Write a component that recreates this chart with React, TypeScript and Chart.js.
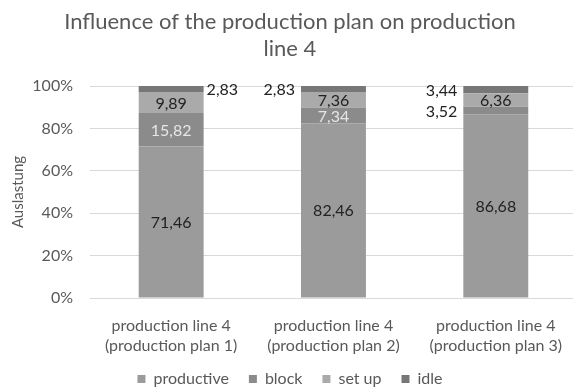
import React, { useEffect, useRef } from 'react';
import { Chart, registerables } from 'chart.js';

Chart.register(...registerables);

const categories = [
  ['production line 4', '(production plan 1)'],
  ['production line 4', '(production plan 2)'],
  ['production line 4', '(production plan 3)'],
];
const seriesNames = ['productive', 'block', 'set up', 'idle'];
const productive = [71.46, 82.46, 86.68];
const block = [15.82, 7.34, 3.52];
const setUp = [9.89, 7.36, 6.36];
const idle = [2.83, 2.83, 3.44];
const yTickValues = [0, 20, 40, 60, 80, 100];

const seriesColors = ['#9b9b9b', '#8b8b8b', '#aaaaaa', '#777777'];
const labelColors = ['#222222', '#e6e6e6', '#222222', '#222222'];
// label placement per series per category
const placements = [
  ['center', 'center', 'center'],
  ['center', 'center', 'left'],
  ['center', 'center', 'center'],
  ['right', 'left', 'left'],
];
const FONT = 'Lato';
const GREY = '#595959';

const fmt = (v: number) => v.toFixed(2).replace('.', ',');

const labelPlugin = {
  id: 'segLabels',
  afterDatasetsDraw(chart: any) {
    const ctx = chart.ctx;
    ctx.save();
    ctx.font = `16px ${FONT}`;
    ctx.textBaseline = 'middle';
    chart.data.datasets.forEach((ds: any, di: number) => {
      const meta = chart.getDatasetMeta(di);
      meta.data.forEach((el: any, i: number) => {
        const { x, y, base, width } = el.getProps(['x', 'y', 'base', 'width'], true);
        const place = placements[di][i];
        let tx = x;
        let color = labelColors[di];
        ctx.textAlign = 'center';
        if (place === 'right') {
          tx = x + width / 2 + 3;
          ctx.textAlign = 'left';
          color = '#222222';
        } else if (place === 'left') {
          tx = x - width / 2 - 6;
          ctx.textAlign = 'right';
          color = '#222222';
        }
        ctx.fillStyle = color;
        ctx.fillText(fmt(ds.data[i]), tx, (y + base) / 2 + 1);
      });
    });
    ctx.restore();
  },
};

export default function App() {
  const ref = useRef<HTMLCanvasElement>(null);
  useEffect(() => {
    document.body.style.margin = '0';
    document.body.style.overflow = 'hidden';
    const seriesData = [productive, block, setUp, idle];
    const chart = new Chart(ref.current!, {
      type: 'bar',
      data: {
        labels: categories,
        datasets: seriesNames.map((name, i) => ({
          label: name,
          data: seriesData[i],
          backgroundColor: seriesColors[i],
          borderWidth: 0,
          barPercentage: 0.4,
          categoryPercentage: 1,
        })),
      },
      options: {
        responsive: false,
        animation: false,
        devicePixelRatio: 1,
        layout: { padding: { left: 0, right: 0, top: 0, bottom: 0 } },
        plugins: {
          title: {
            display: true,
            text: ['Influence of the production plan on production', 'line 4'],
            color: GREY,
            font: { family: FONT, size: 22, weight: 'normal', lineHeight: 1.25 },
            padding: { top: 8, bottom: 23 },
          },
          legend: {
            position: 'bottom',
            labels: {
              color: GREY,
              font: { family: FONT, size: 16 },
              boxWidth: 8,
              boxHeight: 8,
              padding: 20,
            },
          },
          tooltip: { enabled: false },
        },
        scales: {
          x: {
            stacked: true,
            grid: { display: false, drawTicks: false },
            border: { display: false },
            ticks: {
              color: GREY,
              font: { family: FONT, size: 16, lineHeight: 1.25 },
              padding: 18,
            },
            afterFit: (s: any) => {
              s.height = 53;
              s._computeLabelArea = () => undefined;
            },
          },
          y: {
            stacked: true,
            min: 0,
            max: 100,
            afterBuildTicks: (s: any) => {
              s.ticks = yTickValues.map((v) => ({ value: v }));
            },
            grid: { color: '#d9d9d9', drawTicks: false },
            border: { display: false },
            ticks: {
              color: GREY,
              font: { family: FONT, size: 16 },
              padding: 17,
              callback: (v: any) => v + '%',
            },
            title: {
              display: true,
              text: 'Auslastung',
              color: GREY,
              font: { family: FONT, size: 15 },
              padding: { top: 9, bottom: 0 },
            },
            afterFit: (s: any) => {
              s.width = 90;
            },
          },
        },
      },
      plugins: [labelPlugin],
    });
    return () => chart.destroy();
  }, []);
  return (
    <div style={{ position: 'absolute', left: 0, top: 0, width: 580, height: 397 }}>
      <canvas ref={ref} width={580} height={397} />
    </div>
  );
}
